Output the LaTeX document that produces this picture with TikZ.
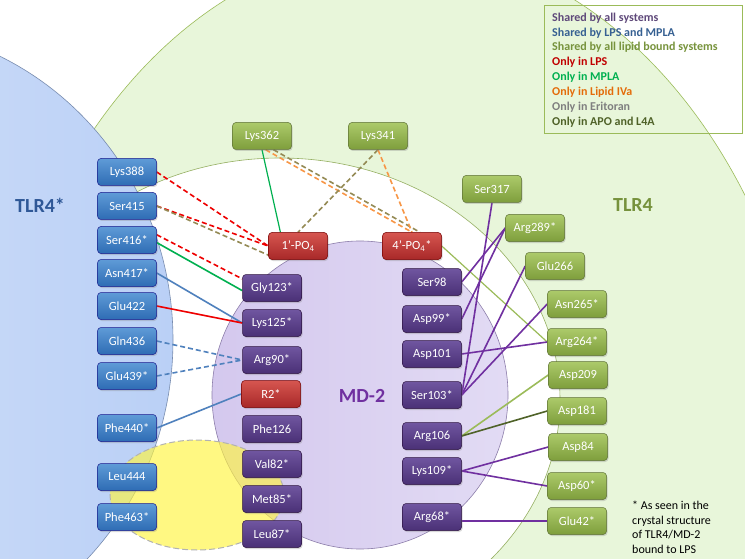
\documentclass[tikz,border=0pt]{standalone}
\usepackage{fontspec}
\setmainfont{Carlito}
\usepackage{tikz}
\usetikzlibrary{shadows}

\definecolor{allsys}{HTML}{7030A0}
\definecolor{lpsmpla}{HTML}{4F81BD}
\definecolor{lipidall}{HTML}{9BBB59}
\definecolor{lpsonly}{HTML}{EE0000}
\definecolor{mplaonly}{HTML}{00B050}
\definecolor{ivaonly}{HTML}{F79646}
\definecolor{eritoran}{HTML}{948A54}
\definecolor{apoonly}{HTML}{4F6228}

\pgfdeclarelayer{bg}
\pgfdeclarelayer{links}
\pgfsetlayers{bg,links,main}

\begin{document}
\begin{tikzpicture}[x=1pt,y=-1pt,
  box/.style={rounded corners=3.5pt,minimum width=59pt,minimum height=27pt,inner sep=0pt,
    text=white,font=\fontsize{12.5}{14}\selectfont,line width=0.5pt,
    drop shadow={shadow xshift=1pt,shadow yshift=-1.5pt,opacity=0.3}},
  tlrbox/.style={box,draw=blue!50!black!90,top color={rgb,255:red,95;green,155;blue,215},bottom color={rgb,255:red,46;green,108;blue,180}},
  mdbox/.style={box,draw=allsys!40!black,top color={rgb,255:red,112;green,86;blue,160},bottom color={rgb,255:red,74;green,48;blue,118}},
  greenbox/.style={box,draw=lipidall!60!black,top color={rgb,255:red,172;green,202;blue,106},bottom color={rgb,255:red,126;green,158;blue,60}},
  lipidbox/.style={box,draw=red!45!black,top color={rgb,255:red,214;green,86;blue,80},bottom color={rgb,255:red,168;green,40;blue,40}},
  link/.style={line width=1.6pt},
  dashlink/.style={link,dash pattern=on 5pt off 3pt}
]
\useasboundingbox (0,0) rectangle (745,559);
\begin{pgfonlayer}{bg}
  \begin{scope}
  \clip (0,0) rectangle (745,559);
  \fill[white] (0,0) rectangle (745,559);
  \path[fill={rgb,255:red,232;green,246;blue,218},draw=lipidall,line width=0.6pt]
    (400,520) ellipse [x radius=419pt,y radius=572pt];
  \path[fill=white,draw=lipidall!80!gray,line width=0.6pt]
    (280,400) ellipse [x radius=280pt,y radius=242pt];
  \path[left color={rgb,255:red,222;green,232;blue,251},right color={rgb,255:red,186;green,208;blue,246},
    draw={rgb,255:red,120;green,140;blue,175},line width=0.6pt]
    (-130,340) ellipse [x radius=303pt,y radius=314pt];
  \path[left color={rgb,255:red,212;green,200;blue,238},right color={rgb,255:red,226;green,219;blue,244},
    draw={rgb,255:red,140;green,125;blue,170},line width=0.6pt]
    (360,395) ellipse [x radius=148pt,y radius=154pt];
  \path[fill=yellow!75!white,fill opacity=0.65,draw=gray!60,line width=1pt,dash pattern=on 6pt off 3pt]
    (197,495) ellipse [x radius=87pt,y radius=55pt];
  \end{scope}
\end{pgfonlayer}

% region labels
\node[font=\bfseries\fontsize{20}{22}\selectfont,text={rgb,255:red,47;green,88;blue,151}] (tlrstar) at (40,205) {TLR4*};
\node[font=\bfseries\fontsize{20}{22}\selectfont,text={rgb,255:red,118;green,146;blue,60}] (tlr) at (633,205) {TLR4};
\node[font=\bfseries\fontsize{20}{22}\selectfont,text=allsys] (md) at (362,396) {MD-2};

% legend
\draw[lipidall,line width=0.7pt] (544,5) rectangle (742,133);
\node[anchor=north west,inner sep=0pt,align=left,font=\bfseries\fontsize{12}{14.9}\selectfont] (legend) at (552,12.5)
  {\textcolor[HTML]{5F497A}{Shared by all systems}\\
   \textcolor[HTML]{366092}{Shared by LPS and MPLA}\\
   \textcolor[HTML]{77933C}{Shared by all lipid bound systems}\\
   \textcolor[HTML]{C00000}{Only in LPS}\\
   \textcolor[HTML]{00B050}{Only in MPLA}\\
   \textcolor[HTML]{E46C0A}{Only in Lipid IVa}\\
   \textcolor[HTML]{7F7F7F}{Only in Eritoran}\\
   \textcolor[HTML]{4F6228}{Only in APO and L4A}};
\node[anchor=north west,inner sep=0pt,align=left,font=\fontsize{12}{14.6}\selectfont] (note) at (632,501)
  {* As seen in the\\crystal structure\\of TLR4/MD-2\\bound to LPS};

% TLR4* residues
\foreach \name/\txt/\ypos in {lys388/Lys388/172,ser415/Ser415/206,ser416/Ser416*/240,asn417/Asn417*/273,
    glu422/Glu422/306,gln436/Gln436/341,glu439/Glu439*/376,phe440/Phe440*/428,leu444/Leu444/477,phe463/Phe463*/517}
  \node[tlrbox] (\name) at (127,\ypos) {\txt};

% MD-2 residues
\foreach \name/\txt/\ypos in {gly123/Gly123*/288,lys125/Lys125*/323,arg90/Arg90*/360,phe126/Phe126/429,
    val82/Val82*/464,met85/Met85*/499,leu87/Leu87*/534}
  \node[mdbox] (\name) at (272,\ypos) {\txt};
\foreach \name/\txt/\ypos in {ser98/Ser98/282,asp99/Asp99*/319,asp101/Asp101/354,ser103/Ser103*/395,
    arg106/Arg106/436,lys109/Lys109*/471,arg68/Arg68*/517}
  \node[mdbox] (\name) at (432,\ypos) {\txt};

% lipid groups
\node[lipidbox] (po1) at (298,246) {1’-PO\textsubscript{4}};
\node[lipidbox] (po4) at (412,246) {4’-PO\textsubscript{4}*};
\node[lipidbox] (r2) at (271,394) {R2*};

% TLR4 residues
\foreach \name/\txt/\xpos/\ypos in {lys362/Lys362/262/136,lys341/Lys341/378/136,ser317/Ser317/492/189,
    arg289/Arg289*/535/228,glu266/Glu266/555/266,asn265/Asn265*/577/304,arg264/Arg264*/577/342,
    asp209/Asp209/578/375,asp181/Asp181/577/411,asp84/Asp84/578/447,asp60/Asp60*/577/486,glu42/Glu42*/577/521}
  \node[greenbox] (\name) at (\xpos,\ypos) {\txt};

\begin{pgfonlayer}{links}
  % TLR4* -- MD-2 / lipid
  \draw[dashlink,lpsonly] (lys388.east) -- (po1.west);
  \draw[dashlink,lpsonly] (ser415.east) -- (po1.west);
  \draw[dashlink,eritoran] (ser415.east) -- (po1.197);
  \draw[dashlink,lpsonly] (ser416.10) -- (gly123.163);
  \draw[link,mplaonly] (ser416.-5) -- (gly123.185);
  \draw[link,lpsmpla] (asn417.east) -- (lys125.west);
  \draw[link,lpsonly] (glu422.east) -- (lys125.west);
  \draw[dashlink,lpsmpla] (gln436.east) -- (arg90.west);
  \draw[dashlink,lpsmpla] (glu439.east) -- (arg90.west);
  \draw[link,lpsmpla] (phe440.east) -- (r2.west);
  % TLR4 -- lipid
  \draw[link,mplaonly,line width=1.2pt] (lys362.south) -- (po1.142);
  \draw[dashlink,ivaonly] (lys362.-75) -- (po4.north);
  \draw[dashlink,eritoran] (lys362.-50) -- (po4.60);
  \draw[dashlink,eritoran] (lys341.south) -- (po1.north);
  \draw[dashlink,ivaonly] (lys341.south) -- (po4.north);
  \draw[link,lipidall,line width=1.2pt] (po4.east) -- (arg264.west);
  % MD-2 -- TLR4
  \draw[link,allsys] (ser98.east) -- (arg289.west);
  \draw[link,allsys] (asp99.east) -- (arg289.west);
  \draw[link,allsys] (asp101.east) -- (arg264.west);
  \draw[link,allsys] (ser317.south) -- (ser103.east);
  \draw[link,allsys] (glu266.west) -- (ser103.east);
  \draw[link,allsys] (asn265.west) -- (ser103.east);
  \draw[link,lipidall] (arg106.east) -- (asp209.west);
  \draw[link,apoonly] (arg106.east) -- (asp181.west);
  \draw[link,allsys] (lys109.east) -- (asp84.west);
  \draw[link,allsys] (lys109.east) -- (asp60.west);
  \draw[link,allsys] (arg68.east |- glu42.west) -- (glu42.west);
\end{pgfonlayer}
\end{tikzpicture}
\end{document}
